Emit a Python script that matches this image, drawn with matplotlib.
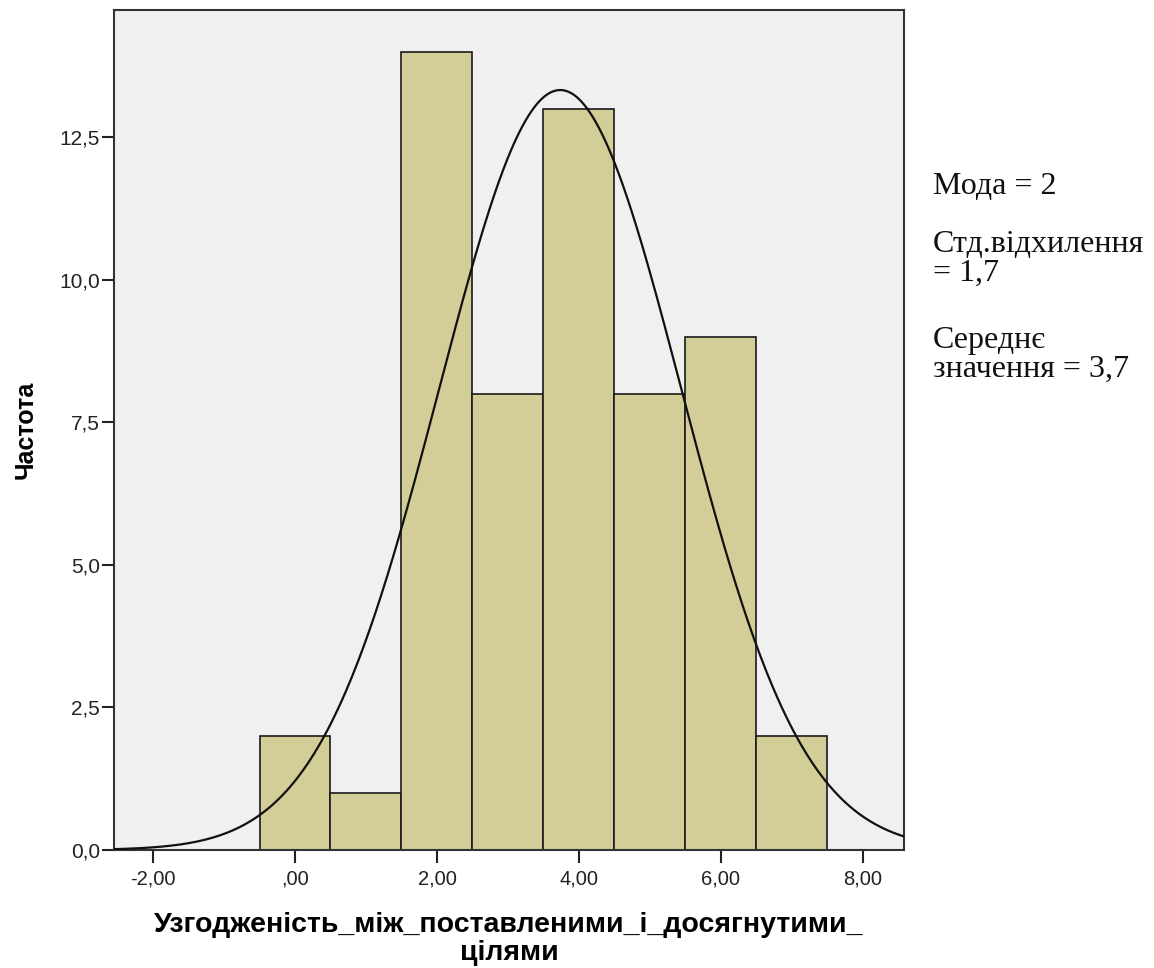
import numpy as np
import matplotlib.pyplot as plt
from matplotlib.ticker import FuncFormatter

# histogram bins (centers) and counts
bin_centers = [0, 1, 2, 3, 4, 5, 6, 7]
counts = [2, 1, 14, 8, 13, 8, 9, 2]
bin_width = 1.0

x_ticks = [-2, 0, 2, 4, 6, 8]
y_ticks = [0, 2.5, 5.0, 7.5, 10.0, 12.5]

stats_lines = ["Мода = 2", "Стд.відхилення", "= 1,7", "Середнє", "значення = 3,7"]

x_label = "Узгодженість_між_поставленими_і_досягнутими_\nцілями"
y_label = "Частота"

# normal curve from the data
centers = np.array(bin_centers, dtype=float)
cnt = np.array(counts, dtype=float)
n = cnt.sum()
mean = (centers * cnt).sum() / n
sd = np.sqrt(((centers - mean) ** 2 * cnt).sum() / (n - 1))

plt.rcParams['font.family'] = ['Liberation Sans', 'DejaVu Sans']

fig = plt.figure(figsize=(11.54, 9.68), dpi=100)
ax = fig.add_axes([114 / 1154, 1 - 850 / 968, 790 / 1154, 840 / 968])
ax.set_facecolor('#f0f0f0')

ax.bar(bin_centers, counts, width=bin_width, color='#d3ce97',
       edgecolor='#1a1a1a', linewidth=1.2, zorder=2)

xs = np.linspace(-2.6, 8.6, 400)
ys = n * bin_width / (sd * np.sqrt(2 * np.pi)) * np.exp(-0.5 * ((xs - mean) / sd) ** 2)
ax.plot(xs, ys, color='#111111', linewidth=1.6, zorder=3)

ax.set_xlim(-2.55, 8.58)
ax.set_ylim(0, 14.73)
ax.set_xticks(x_ticks)
ax.set_yticks(y_ticks)


def fmt_x(v, pos):
    s = f"{v:.2f}".replace('.', ',')
    if s.startswith('0,'):
        s = s[1:]
    return s


ax.xaxis.set_major_formatter(FuncFormatter(fmt_x))
ax.yaxis.set_major_formatter(FuncFormatter(lambda v, p: f"{v:.1f}".replace('.', ',')))

ax.tick_params(axis='both', direction='out', length=9, width=1.5, color='#222222',
               labelcolor='#222222')
ax.tick_params(axis='x', pad=5, labelsize=14.5)
ax.tick_params(axis='y', pad=1, labelsize=15)
for sp in ax.spines.values():
    sp.set_color('#333333')
    sp.set_linewidth(1.5)

ax.set_xlabel(x_label, fontsize=20.5, fontweight='bold', labelpad=17, linespacing=1.12)
ax.set_ylabel(y_label, fontsize=18, fontweight='bold', labelpad=16)

# stats text on the right
baselines_px = [194, 252, 281, 348, 377]
for txt, yp in zip(stats_lines, baselines_px):
    fig.text(933 / 1154, 1 - yp / 968, txt, family=['Liberation Serif', 'DejaVu Serif'],
             fontsize=23, va='baseline', ha='left', color='#111111')

fig.savefig('out.png', dpi=100)
